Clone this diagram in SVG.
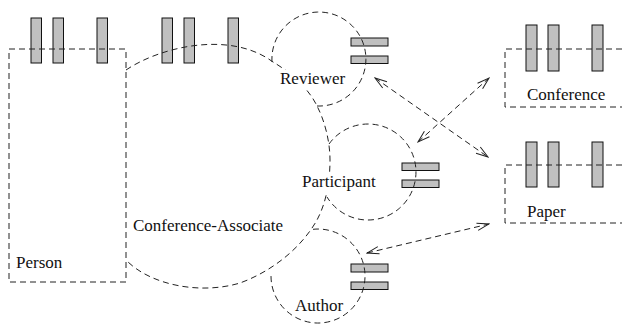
<svg xmlns="http://www.w3.org/2000/svg" width="622" height="327" viewBox="0 0 622 327">
<style>
.d{fill:none;stroke:#222;stroke-width:1;stroke-dasharray:6 4}
.bar{fill:#c0c0c0;stroke:#111;stroke-width:1}
.t{font-family:"Liberation Serif","Times New Roman",serif;font-size:17px;fill:#111}
.bg{fill:#fff;stroke:none}
.c{fill:none;stroke:#222;stroke-width:1;stroke-dasharray:6 4}
</style>
<defs>
<marker id="ah" markerUnits="userSpaceOnUse" viewBox="-13 -5 14 10" markerWidth="14" markerHeight="10" refX="0" refY="0" orient="auto-start-reverse">
<path d="M-12,-3.75 L0,0 L-12,3.75" fill="none" stroke="#222" stroke-width="1" stroke-dasharray="none"/>
</marker>
</defs>
<g id="person">
<rect class="bar" x="31" y="18" width="10.5" height="45"/>
<rect class="bar" x="53" y="18" width="10.5" height="45"/>
<rect class="bar" x="97" y="18" width="10.5" height="45"/>
<rect class="d" x="9" y="49" width="117" height="233"/>
<text class="t" x="16" y="268">Person</text>
</g>
<g id="conference-associate">
<rect class="bar" x="162" y="18" width="10.5" height="45"/>
<rect class="bar" x="184" y="18" width="10.5" height="45"/>
<rect class="bar" x="228" y="18" width="10.5" height="45"/>
<path class="d" d="M126,70 C160,47 230,30 273,62 C290,72 309,88 318,108 C324,120 330,140 330,160 C330,185 325,205 317,220 C300,250 270,272 240,283 C200,295 150,285 126,260"/>
<text class="t" x="133" y="231">Conference-Associate</text>
</g>
<g id="reviewer">
<rect class="bar" x="351" y="38" width="37" height="8"/>
<rect class="bar" x="351" y="56" width="37" height="7.5"/>
<path class="d" d="M272,62 A47,47 0 1 1 317,106"/>
<rect class="bg" x="280" y="70" width="66" height="19"/>
<text class="t" x="280" y="84">Reviewer</text>
</g>
<g id="participant">
<rect class="bar" x="402" y="163" width="37" height="7.5"/>
<rect class="bar" x="402" y="180" width="37" height="7.5"/>
<path class="d" d="M329,144 A48,48 0 1 1 327,197"/>
<rect class="bg" x="301" y="172" width="76" height="20"/>
<text class="t" x="302" y="187">Participant</text>
</g>
<g id="author">
<rect class="bar" x="351" y="264" width="37" height="8"/>
<rect class="bar" x="351" y="282" width="37" height="7.5"/>
<path class="d" d="M313,229.3 A47,47 0 1 1 271.1,273"/>
<text class="t" x="295" y="311">Author</text>
</g>
<g id="conference">
<rect class="bar" x="526" y="25" width="11" height="46"/>
<rect class="bar" x="548" y="25" width="11" height="46"/>
<rect class="bar" x="592" y="25" width="11" height="46"/>
<path class="d" d="M622,49 H505 V107 H622"/>
<text class="t" x="527" y="100">Conference</text>
</g>
<g id="paper">
<rect class="bar" x="526" y="142" width="11" height="45"/>
<rect class="bar" x="548" y="142" width="11" height="45"/>
<rect class="bar" x="592" y="142" width="11" height="45"/>
<path class="d" d="M622,165 H505 V223 H622"/>
<text class="t" x="527" y="217">Paper</text>
</g>
<g id="connectors">
<path class="c" d="M375,78 L488,157" marker-start="url(#ah)" marker-end="url(#ah)"/>
<path class="c" d="M418,142 L489,78" marker-start="url(#ah)" marker-end="url(#ah)"/>
<path class="c" d="M367,253 L489,224" marker-start="url(#ah)" marker-end="url(#ah)"/>
</g>
</svg>
